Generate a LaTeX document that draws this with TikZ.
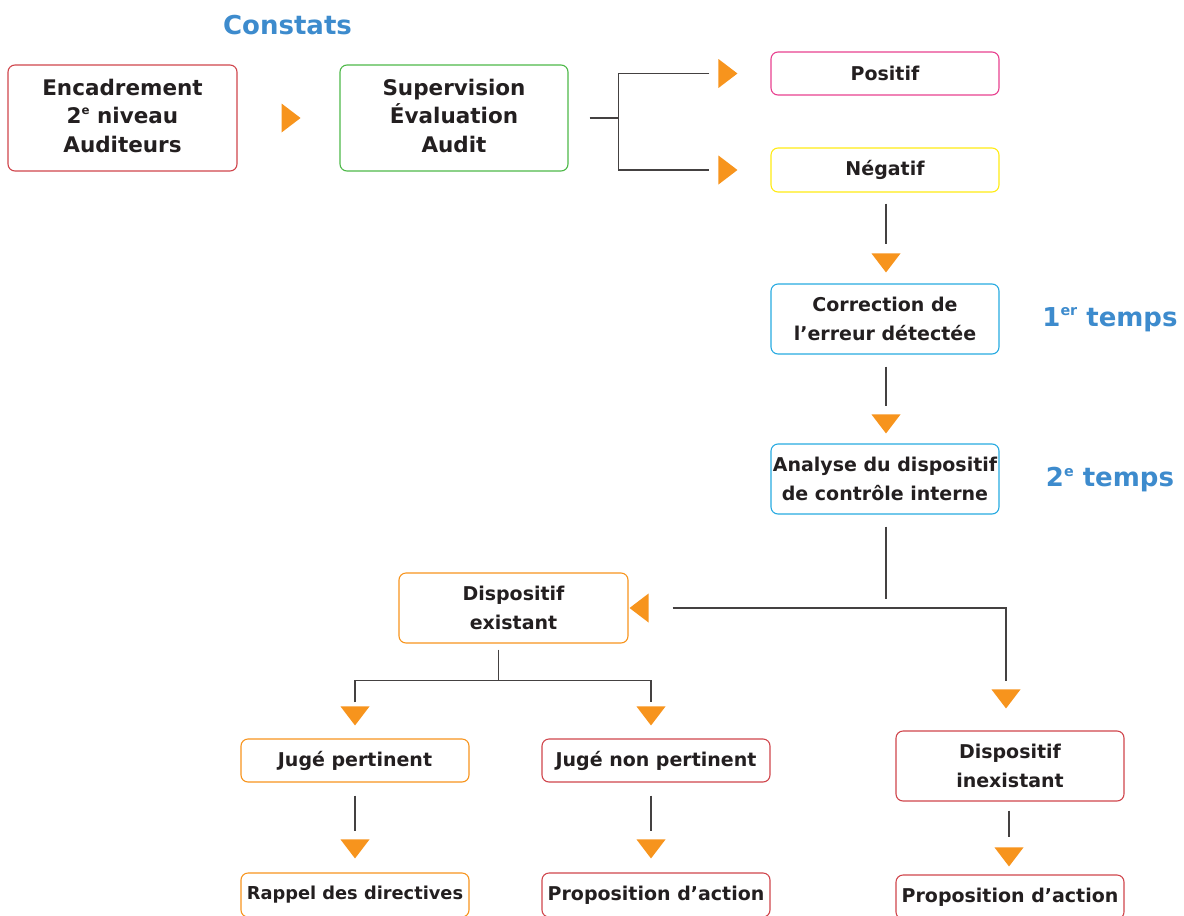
\documentclass[tikz,border=0pt]{standalone}
\usepackage{fontspec}
\setmainfont{DejaVu Sans}
\definecolor{txt}{HTML}{231F20}
\definecolor{cred}{HTML}{D0454C}
\definecolor{cgreen}{HTML}{4DB848}
\definecolor{cpink}{HTML}{E8408F}
\definecolor{cyellow}{HTML}{FFEB14}
\definecolor{ccyan}{HTML}{27AAE1}
\definecolor{corange}{HTML}{F7941D}
\definecolor{cblue}{HTML}{3D8BCD}
\newcommand\supx[1]{\raisebox{0.42em}{\scalebox{0.55}{#1}}}
\tikzset{
  box/.style={draw, rounded corners=7pt, line width=1.1pt, minimum width=228pt,
    align=center, inner sep=0pt, text=txt, font=\bfseries\fontsize{19}{29}\selectfont},
  bigbox/.style={box, minimum height=106pt, font=\bfseries\fontsize{21.5}{28.5}\selectfont},
  lowbox/.style={box, minimum height=43pt},
  tallbox/.style={box, minimum height=70pt},
  conn/.style={draw=txt!85, line width=1.1pt},
  lbl/.style={text=cblue, font=\bfseries\fontsize{26}{30}\selectfont, inner sep=0pt},
  tri/.style={fill=corange},
  tridown/.pic={\fill[tri] (-14.5,0) -- (14.5,0) -- (0,19) -- cycle;},
  triright/.pic={\fill[tri] (0,-14.5) -- (0,14.5) -- (19,0) -- cycle;},
  trileft/.pic={\fill[tri] (0,-14.5) -- (0,14.5) -- (-19,0) -- cycle;},
}
\begin{document}
\begin{tikzpicture}[x=1pt,y=-1pt]
\useasboundingbox (0,0) rectangle (1184,916);
% boxes
\node[bigbox, draw=cred, minimum width=229pt] (enc) at (122.5,118) {Encadrement\\2\supx{e} niveau\\Auditeurs\\[-23.5pt]};
\node[bigbox, draw=cgreen] (sup) at (454,118) {Supervision\\Évaluation\\Audit\\[-23.5pt]};
\node[lowbox, draw=cpink] (pos) at (885,73.5) {Positif};
\node[lowbox, draw=cyellow, minimum height=44pt] (neg) at (885,170) {Négatif};
\node[tallbox, draw=ccyan] (cor) at (885,319) {Correction de\\l’erreur détectée};
\node[tallbox, draw=ccyan] (ana) at (885,479) {Analyse du dispositif\\de contrôle interne};
\node[tallbox, draw=corange, minimum width=229pt] (dex) at (513.5,608) {Dispositif\\existant};
\node[lowbox, draw=corange] (jp) at (355,760.5) {Jugé pertinent};
\node[lowbox, draw=cred] (jnp) at (656,760.5) {Jugé non pertinent};
\node[tallbox, draw=cred] (din) at (1010,766) {Dispositif\\inexistant};
\node[lowbox, draw=corange, minimum height=44pt, font=\bfseries\fontsize{17.8}{29}\selectfont] (rap) at (355,895) {Rappel des directives};
\node[lowbox, draw=cred, minimum height=44pt] (pr1) at (656,895) {Proposition d’action};
\node[lowbox, draw=cred, minimum height=44pt] (pr2) at (1010,897) {Proposition d’action};
% labels
\node[lbl] (constats) at (287.5,25) {Constats};
\node[lbl] (t1) at (1110,320) {1\supx{er} temps};
\node[lbl] (t2) at (1110,480) {2\supx{e} temps};
% enc -> sup
\pic at ([xshift=44]enc.east) {triright};
% sup -> pos / neg
\draw[conn] ([xshift=21]sup.east) -- ([xshift=50]sup.east);
\draw[conn] ([xshift=-61]pos.west) -| ([xshift=50]sup.east) |- ([xshift=-61]neg.west);
\pic at ([xshift=-52]pos.west) {triright};
\pic at ([xshift=-52]neg.west) {triright};
% neg -> cor
\draw[conn] ([xshift=1,yshift=-11]neg.south) -- ([xshift=1,yshift=39]cor.north);
\pic at ([xshift=1,yshift=30]cor.north) {tridown};
% cor -> ana
\draw[conn] ([xshift=1,yshift=-12]cor.south) -- ([xshift=1,yshift=37]ana.north);
\pic at ([xshift=1,yshift=29]ana.north) {tridown};
% ana -> dex / din
\draw[conn] ([xshift=1,yshift=-12]ana.south) -- ([xshift=1,yshift=-84]ana.south);
\draw[conn] ([xshift=44]dex.east) -- ([xshift=-4]din.north |- dex.east) -- ([xshift=-4,yshift=49]din.north);
\pic at ([xshift=20]dex.east) {trileft};
\pic at ([xshift=-4,yshift=41]din.north) {tridown};
% dex -> jp / jnp
\draw[conn] ([xshift=-15,yshift=-6]dex.south) -- ([xshift=-15,yshift=-37]dex.south);
\draw[conn] ([yshift=36]jp.north) |- ([xshift=-15,yshift=-37]dex.south) -| ([xshift=-5,yshift=36]jnp.north);
\pic at ([yshift=32]jp.north) {tridown};
\pic at ([xshift=-5,yshift=32]jnp.north) {tridown};
% jp -> rap, jnp -> pr1
\draw[conn] ([yshift=-13]jp.south) -- ([yshift=41]rap.north);
\pic at ([yshift=33]rap.north) {tridown};
\draw[conn] ([xshift=-5,yshift=-13]jnp.south) -- ([xshift=-5,yshift=41]pr1.north);
\pic at ([xshift=-5,yshift=33]pr1.north) {tridown};
% din -> pr2
\draw[conn] ([xshift=-1,yshift=-9]din.south) -- ([xshift=-1,yshift=37]pr2.north);
\pic at ([xshift=-1,yshift=27]pr2.north) {tridown};
\end{tikzpicture}
\end{document}
